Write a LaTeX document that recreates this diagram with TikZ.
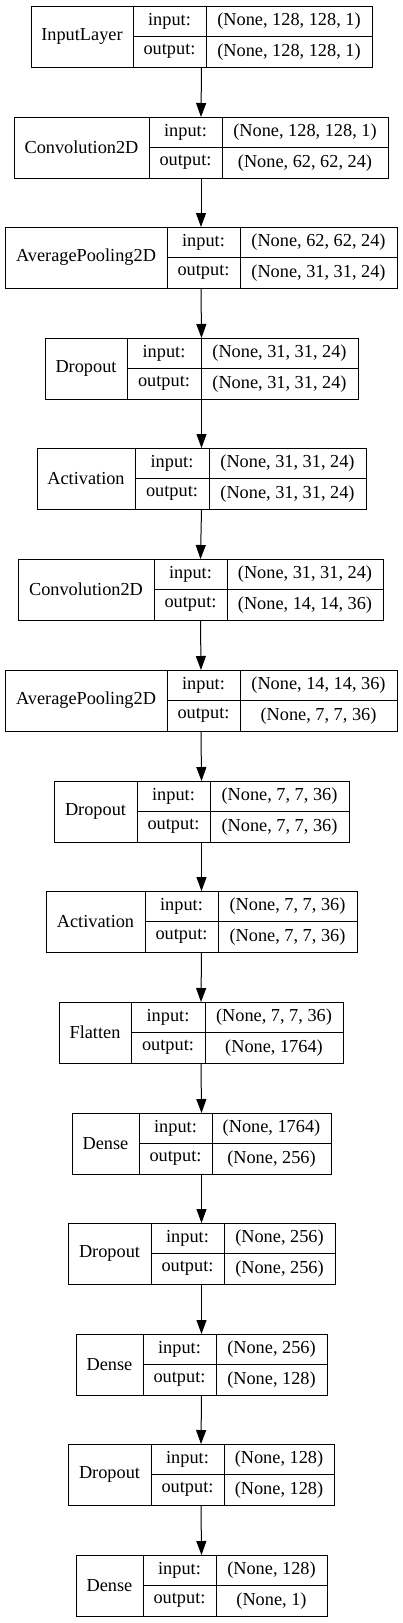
\documentclass[tikz,border=0pt]{standalone}
\usepackage{fontspec}
\setmainfont{Liberation Serif}
\usepackage{tikz}
\usetikzlibrary{fit,arrows.meta,positioning}
\newcommand{\rowh}{30.5}
\newcommand{\labw}{73}
\newcommand{\fsize}{18.3}
\tikzset{
  namecell/.style={draw, line width=1pt, rectangle, inner sep=0, outer sep=0, anchor=north west,
    minimum height=2*\rowh, font=\fontsize{\fsize}{22}\selectfont},
  rowcell/.style={draw, line width=1pt, rectangle, inner sep=0, outer sep=0, anchor=north west,
    minimum height=\rowh, font=\fontsize{\fsize}{22}\selectfont},
  record/.style={inner sep=0, outer sep=0},
  flow/.style={line width=1pt, -{Triangle[length=14pt, width=10pt]}}
}

\begin{document}
\begin{tikzpicture}[x=1pt, y=-1pt]
\useasboundingbox (0,0) rectangle (403,1623);
%InputLayer
\node[namecell, minimum width=102] (inlayer) at (31,6) {InputLayer};
\node[rowcell, minimum width=\labw] (inlayer-in) at (inlayer.north east) {input:};
\node[rowcell, minimum width=\labw] (inlayer-out) at (inlayer-in.south west) {output:};
\node[rowcell, minimum width=166] (inlayer-inv) at (inlayer-in.north east) {(None, 128, 128, 1)};
\node[rowcell, minimum width=166] (inlayer-outv) at (inlayer-inv.south west) {(None, 128, 128, 1)};
\node[record, fit=(inlayer)(inlayer-outv)] (inlayer-rec) {};
%Convolution2D
\node[namecell, minimum width=135] (conv1) at (14,117) {Convolution2D};
\node[rowcell, minimum width=\labw] (conv1-in) at (conv1.north east) {input:};
\node[rowcell, minimum width=\labw] (conv1-out) at (conv1-in.south west) {output:};
\node[rowcell, minimum width=166] (conv1-inv) at (conv1-in.north east) {(None, 128, 128, 1)};
\node[rowcell, minimum width=166] (conv1-outv) at (conv1-inv.south west) {(None, 62, 62, 24)};
\node[record, fit=(conv1)(conv1-outv)] (conv1-rec) {};
%AveragePooling2D
\node[namecell, minimum width=162] (pool1) at (5,227) {AveragePooling2D};
\node[rowcell, minimum width=\labw] (pool1-in) at (pool1.north east) {input:};
\node[rowcell, minimum width=\labw] (pool1-out) at (pool1-in.south west) {output:};
\node[rowcell, minimum width=157] (pool1-inv) at (pool1-in.north east) {(None, 62, 62, 24)};
\node[rowcell, minimum width=157] (pool1-outv) at (pool1-inv.south west) {(None, 31, 31, 24)};
\node[record, fit=(pool1)(pool1-outv)] (pool1-rec) {};
%Dropout
\node[namecell, minimum width=82] (drop1) at (45,338) {Dropout};
\node[rowcell, minimum width=74] (drop1-in) at (drop1.north east) {input:};
\node[rowcell, minimum width=74] (drop1-out) at (drop1-in.south west) {output:};
\node[rowcell, minimum width=157] (drop1-inv) at (drop1-in.north east) {(None, 31, 31, 24)};
\node[rowcell, minimum width=157] (drop1-outv) at (drop1-inv.south west) {(None, 31, 31, 24)};
\node[record, fit=(drop1)(drop1-outv)] (drop1-rec) {};
%Activation
\node[namecell, minimum width=98] (act1) at (37,448) {Activation};
\node[rowcell, minimum width=74] (act1-in) at (act1.north east) {input:};
\node[rowcell, minimum width=74] (act1-out) at (act1-in.south west) {output:};
\node[rowcell, minimum width=157] (act1-inv) at (act1-in.north east) {(None, 31, 31, 24)};
\node[rowcell, minimum width=157] (act1-outv) at (act1-inv.south west) {(None, 31, 31, 24)};
\node[record, fit=(act1)(act1-outv)] (act1-rec) {};
%Convolution2D
\node[namecell, minimum width=136] (conv2) at (18,559) {Convolution2D};
\node[rowcell, minimum width=\labw] (conv2-in) at (conv2.north east) {input:};
\node[rowcell, minimum width=\labw] (conv2-out) at (conv2-in.south west) {output:};
\node[rowcell, minimum width=156] (conv2-inv) at (conv2-in.north east) {(None, 31, 31, 24)};
\node[rowcell, minimum width=156] (conv2-outv) at (conv2-inv.south west) {(None, 14, 14, 36)};
\node[record, fit=(conv2)(conv2-outv)] (conv2-rec) {};
%AveragePooling2D
\node[namecell, minimum width=162] (pool2) at (5,670) {AveragePooling2D};
\node[rowcell, minimum width=\labw] (pool2-in) at (pool2.north east) {input:};
\node[rowcell, minimum width=\labw] (pool2-out) at (pool2-in.south west) {output:};
\node[rowcell, minimum width=157] (pool2-inv) at (pool2-in.north east) {(None, 14, 14, 36)};
\node[rowcell, minimum width=157] (pool2-outv) at (pool2-inv.south west) {(None, 7, 7, 36)};
\node[record, fit=(pool2)(pool2-outv)] (pool2-rec) {};
%Dropout
\node[namecell, minimum width=83] (drop2) at (54,781) {Dropout};
\node[rowcell, minimum width=\labw] (drop2-in) at (drop2.north east) {input:};
\node[rowcell, minimum width=\labw] (drop2-out) at (drop2-in.south west) {output:};
\node[rowcell, minimum width=139] (drop2-inv) at (drop2-in.north east) {(None, 7, 7, 36)};
\node[rowcell, minimum width=139] (drop2-outv) at (drop2-inv.south west) {(None, 7, 7, 36)};
\node[record, fit=(drop2)(drop2-outv)] (drop2-rec) {};
%Activation
\node[namecell, minimum width=99] (act2) at (46,891) {Activation};
\node[rowcell, minimum width=\labw] (act2-in) at (act2.north east) {input:};
\node[rowcell, minimum width=\labw] (act2-out) at (act2-in.south west) {output:};
\node[rowcell, minimum width=139] (act2-inv) at (act2-in.north east) {(None, 7, 7, 36)};
\node[rowcell, minimum width=139] (act2-outv) at (act2-inv.south west) {(None, 7, 7, 36)};
\node[record, fit=(act2)(act2-outv)] (act2-rec) {};
%Flatten
\node[namecell, minimum width=72] (flat) at (59,1002) {Flatten};
\node[rowcell, minimum width=74] (flat-in) at (flat.north east) {input:};
\node[rowcell, minimum width=74] (flat-out) at (flat-in.south west) {output:};
\node[rowcell, minimum width=138] (flat-inv) at (flat-in.north east) {(None, 7, 7, 36)};
\node[rowcell, minimum width=138] (flat-outv) at (flat-inv.south west) {(None, 1764)};
\node[record, fit=(flat)(flat-outv)] (flat-rec) {};
%Dense
\node[namecell, minimum width=67] (dense1) at (72,1113) {Dense};
\node[rowcell, minimum width=\labw] (dense1-in) at (dense1.north east) {input:};
\node[rowcell, minimum width=\labw] (dense1-out) at (dense1-in.south west) {output:};
\node[rowcell, minimum width=119] (dense1-inv) at (dense1-in.north east) {(None, 1764)};
\node[rowcell, minimum width=119] (dense1-outv) at (dense1-inv.south west) {(None, 256)};
\node[record, fit=(dense1)(dense1-outv)] (dense1-rec) {};
%Dropout
\node[namecell, minimum width=83] (drop3) at (68,1223) {Dropout};
\node[rowcell, minimum width=\labw] (drop3-in) at (drop3.north east) {input:};
\node[rowcell, minimum width=\labw] (drop3-out) at (drop3-in.south west) {output:};
\node[rowcell, minimum width=111] (drop3-inv) at (drop3-in.north east) {(None, 256)};
\node[rowcell, minimum width=111] (drop3-outv) at (drop3-inv.south west) {(None, 256)};
\node[record, fit=(drop3)(drop3-outv)] (drop3-rec) {};
%Dense
\node[namecell, minimum width=67] (dense2) at (76,1334) {Dense};
\node[rowcell, minimum width=\labw] (dense2-in) at (dense2.north east) {input:};
\node[rowcell, minimum width=\labw] (dense2-out) at (dense2-in.south west) {output:};
\node[rowcell, minimum width=111] (dense2-inv) at (dense2-in.north east) {(None, 256)};
\node[rowcell, minimum width=111] (dense2-outv) at (dense2-inv.south west) {(None, 128)};
\node[record, fit=(dense2)(dense2-outv)] (dense2-rec) {};
%Dropout
\node[namecell, minimum width=83] (drop4) at (68,1444) {Dropout};
\node[rowcell, minimum width=\labw] (drop4-in) at (drop4.north east) {input:};
\node[rowcell, minimum width=\labw] (drop4-out) at (drop4-in.south west) {output:};
\node[rowcell, minimum width=110] (drop4-inv) at (drop4-in.north east) {(None, 128)};
\node[rowcell, minimum width=110] (drop4-outv) at (drop4-inv.south west) {(None, 128)};
\node[record, fit=(drop4)(drop4-outv)] (drop4-rec) {};
%Dense
\node[namecell, minimum width=67] (dense3) at (76,1555) {Dense};
\node[rowcell, minimum width=\labw] (dense3-in) at (dense3.north east) {input:};
\node[rowcell, minimum width=\labw] (dense3-out) at (dense3-in.south west) {output:};
\node[rowcell, minimum width=111] (dense3-inv) at (dense3-in.north east) {(None, 128)};
\node[rowcell, minimum width=111] (dense3-outv) at (dense3-inv.south west) {(None, 1)};
\node[record, fit=(dense3)(dense3-outv)] (dense3-rec) {};
%arrows
\draw[flow] (inlayer-rec.south) -- (conv1-rec.north);
\draw[flow] (conv1-rec.south) -- (pool1-rec.north);
\draw[flow] (pool1-rec.south) -- (drop1-rec.north);
\draw[flow] (drop1-rec.south) -- (act1-rec.north);
\draw[flow] (act1-rec.south) -- (conv2-rec.north);
\draw[flow] (conv2-rec.south) -- (pool2-rec.north);
\draw[flow] (pool2-rec.south) -- (drop2-rec.north);
\draw[flow] (drop2-rec.south) -- (act2-rec.north);
\draw[flow] (act2-rec.south) -- (flat-rec.north);
\draw[flow] (flat-rec.south) -- (dense1-rec.north);
\draw[flow] (dense1-rec.south) -- (drop3-rec.north);
\draw[flow] (drop3-rec.south) -- (dense2-rec.north);
\draw[flow] (dense2-rec.south) -- (drop4-rec.north);
\draw[flow] (drop4-rec.south) -- (dense3-rec.north);
\end{tikzpicture}
\end{document}
